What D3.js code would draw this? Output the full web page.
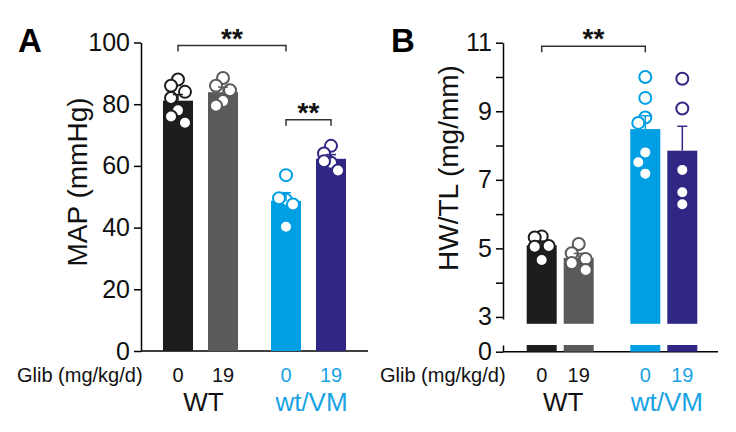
<!DOCTYPE html>
<html>
<head>
<meta charset="utf-8">
<script src="https://cdn.jsdelivr.net/npm/d3@7"></script>
<style>
  body { margin: 0; background: #fff; }
  svg { font-family: "Liberation Sans", Arial, sans-serif; }
</style>
</head>
<body>
<div id="chart"></div>
<script>
// data
const doses = ["0", "19", "0", "19"];
const genotypes = ["WT", "wt/VM"];
const mapValues = [
    [88, 86, 84, 82, 78, 76, 74],
    [88.5, 86, 84.5, 81, 79.5],
    [57, 49, 49.5, 47.5, 40.3],
    [66.5, 64, 61, 61.5, 58.5]
];
const hwtlValues = [
    [5.35, 5.32, 5.07, 5.05, 4.66],
    [5.13, 4.86, 4.69, 4.57, 4.37],
    [10.0, 9.39, 8.82, 8.66, 7.80, 7.51, 7.18],
    [9.95, 9.08, 7.29, 6.64, 6.29]
];
const mapTicks = [0, 20, 40, 60, 80, 100];
const hwtlTicks = [3, 4, 5, 6, 7, 8, 9, 10, 11];
// [from bar, to bar, bracket level]
const mapSig = [[0, 2, 99], [2, 3, 75]];
const hwtlSig = [[0, 2, 10.9]];

const width = 736, height = 432;
const barColors = ["#1d1d1b", "#5a5a5a", "#009fe3", "#2f2783"];
const textColors = ["#111", "#111", "#1aa3e3", "#1aa3e3"];
const genoColors = ["#111", "#1aa3e3"];
const r = 6;

var svg = d3.select("#chart").append("svg")
    .attr("width", width)
    .attr("height", height);

function sem(v) { return d3.deviation(v) / Math.sqrt(v.length); }

// spread points sideways when they crowd
function dodge(vals, y) {
    const placed = [];
    return vals.map(function (v) {
        const py = y(v);
        let best = 0, bestD = -1;
        for (const dx of [0, -7, 7]) {
            const d = placed.length ? d3.min(placed, p => Math.hypot(p[0] - dx, p[1] - py)) : Infinity;
            if (d >= 11) { best = dx; bestD = d; break; }
            if (d > bestD) { bestD = d; best = dx; }
        }
        placed.push([best, py]);
        return best;
    });
}

function styleAxis(sel) {
    sel.selectAll("path, line").attr("stroke", "#000").attr("stroke-width", 1.5);
    sel.selectAll("text").attr("font-size", 25).attr("fill", "#111")
        .attr("font-family", "Liberation Sans, Arial, sans-serif");
}

function drawPanel(cfg) {
    const g = svg.append("g");
    const x = d3.scaleLinear().domain([0, 1]).range([cfg.x0, cfg.x0 + cfg.step]);
    const cx = i => x(cfg.slots[i]);
    const y = cfg.y;

    // y axis
    g.append("g")
        .attr("transform", "translate(" + cfg.axisX + ",0)")
        .call(d3.axisLeft(y).tickValues(cfg.ticks).tickSize(7).tickSizeOuter(0)
            .tickPadding(4).tickFormat(cfg.fmt || d3.format("d")))
        .call(styleAxis);

    if (cfg.yLow) {
        g.append("g")
            .attr("transform", "translate(" + cfg.axisX + ",0)")
            .call(d3.axisLeft(cfg.yLow).tickValues([0]).tickSize(7).tickSizeOuter(0)
                .tickPadding(4).tickFormat(d3.format("d")))
            .call(styleAxis);
    }

    const base = cfg.yLow ? cfg.yLow(0) : y(0);
    g.append("line")
        .attr("x1", cfg.axisX).attr("x2", cfg.baseEnd)
        .attr("y1", base).attr("y2", base)
        .attr("stroke", "#000").attr("stroke-width", 1.5);

    const means = cfg.values.map(v => d3.mean(v));

    // bars
    g.selectAll(".bar")
        .data(means)
        .enter()
        .append("rect")
        .attr("class", "bar")
        .attr("x", (d, i) => cx(i) - 15)
        .attr("width", 30)
        .attr("y", d => y(d))
        .attr("height", d => (cfg.yLow ? y(cfg.breakAt) : y(0)) - y(d))
        .attr("fill", (d, i) => barColors[i]);

    if (cfg.yLow) {
        g.selectAll(".barlow")
            .data(means)
            .enter()
            .append("rect")
            .attr("x", (d, i) => cx(i) - 15)
            .attr("width", 30)
            .attr("y", cfg.yLow(cfg.lowTop))
            .attr("height", cfg.yLow(0) - cfg.yLow(cfg.lowTop))
            .attr("fill", (d, i) => barColors[i]);
    }

    // points
    cfg.values.forEach(function (vals, i) {
        const off = dodge(vals, y);
        g.selectAll(".pt" + i)
            .data(vals)
            .enter()
            .append("circle")
            .attr("cx", (d, j) => cx(i) + off[j])
            .attr("cy", d => y(d))
            .attr("r", r)
            .attr("fill", "#fff")
            .attr("stroke", barColors[i])
            .attr("stroke-width", 2);
    });

    // error bars (upper half)
    cfg.values.forEach(function (vals, i) {
        const m = means[i], e = sem(vals);
        g.append("line")
            .attr("x1", cx(i)).attr("x2", cx(i))
            .attr("y1", y(m)).attr("y2", y(m + e))
            .attr("stroke", barColors[i]).attr("stroke-width", 1.5);
        g.append("line")
            .attr("x1", cx(i) - 5).attr("x2", cx(i) + 5)
            .attr("y1", y(m + e)).attr("y2", y(m + e))
            .attr("stroke", barColors[i]).attr("stroke-width", 1.5);
    });

    // significance brackets
    cfg.sig.forEach(function (s) {
        const yy = y(s[2]);
        g.append("path")
            .attr("d", "M" + cx(s[0]) + "," + (yy + 6) + "V" + yy + "H" + cx(s[1]) + "V" + (yy + 6))
            .attr("fill", "none")
            .attr("stroke", "#333")
            .attr("stroke-width", 1.5);
        g.append("text")
            .attr("x", (cx(s[0]) + cx(s[1])) / 2)
            .attr("y", yy + 2)
            .attr("text-anchor", "middle")
            .attr("font-size", 28)
            .attr("font-weight", "bold")
            .attr("fill", "#111")
            .text("**");
    });

    // x labels
    g.append("text")
        .attr("x", cfg.glibX)
        .attr("y", 382)
        .attr("font-size", 20)
        .attr("fill", "#111")
        .text("Glib (mg/kg/d)");

    g.selectAll(".dose")
        .data(doses)
        .enter()
        .append("text")
        .attr("x", (d, i) => cx(i))
        .attr("y", 382)
        .attr("text-anchor", "middle")
        .attr("font-size", 20)
        .attr("fill", (d, i) => textColors[i])
        .text(d => d);

    g.selectAll(".geno")
        .data(genotypes)
        .enter()
        .append("text")
        .attr("x", (d, k) => (cx(2 * k) + cx(2 * k + 1)) / 2 + 3)
        .attr("y", 411)
        .attr("text-anchor", "middle")
        .attr("font-size", 26)
        .attr("fill", (d, k) => genoColors[k])
        .text(d => d);

    // y title
    g.append("text")
        .attr("transform", "translate(" + cfg.titleX + "," + cfg.titleY + ") rotate(-90)")
        .attr("text-anchor", "middle")
        .attr("font-size", 28)
        .attr("fill", "#111")
        .text(cfg.title);

    // panel letter
    g.append("text")
        .attr("x", cfg.letterX)
        .attr("y", 52)
        .attr("font-size", 33)
        .attr("font-weight", "bold")
        .attr("fill", "#000")
        .text(cfg.letter);
}

drawPanel({
    letter: "A", letterX: 18,
    title: "MAP (mmHg)", titleX: 87, titleY: 182,
    values: mapValues, ticks: mapTicks, sig: mapSig,
    y: d3.scaleLinear().domain([0, 100]).range([351, 42.5]),
    axisX: 141, baseEnd: 368,
    x0: 178, step: 45, slots: [0, 1, 2.4, 3.4],
    glibX: 17
});

drawPanel({
    letter: "B", letterX: 391,
    title: "HW/TL (mg/mm)", titleX: 458, titleY: 168,
    values: hwtlValues, ticks: hwtlTicks, sig: hwtlSig,
    fmt: d => (d % 2 ? d : ""),
    y: d3.scaleLinear().domain([2.94, 11]).range([319, 42.7]),
    yLow: d3.scaleLinear().domain([0, 0.2]).range([351.7, 345]),
    breakAt: 2.8, lowTop: 0.2,
    axisX: 503, baseEnd: 718,
    x0: 541.7, step: 37, slots: [0, 1, 2.8, 3.8],
    glibX: 380
});
</script>
</body>
</html>
